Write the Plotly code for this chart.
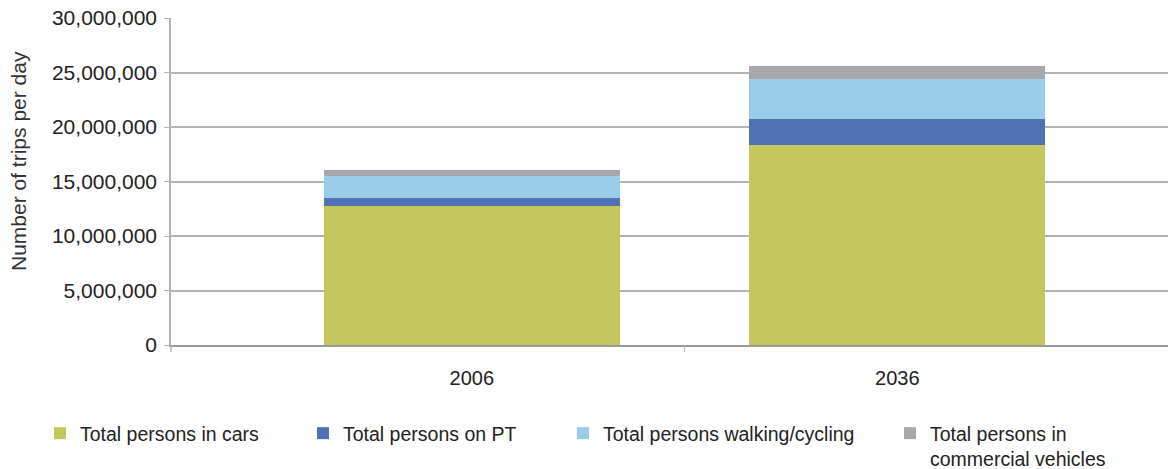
import plotly.graph_objects as go

years = ["2006", "2036"]
series_names = [
    "Total persons in cars",
    "Total persons on PT",
    "Total persons walking/cycling",
    "Total persons in<br>commercial vehicles",
]
cars = [12740000, 18390000]
pt = [710000, 2380000]
walking = [2010000, 3660000]
commercial = [640000, 1190000]
y_ticks = [0, 5000000, 10000000, 15000000, 20000000, 25000000, 30000000]

colors = ["#C4C85C", "#5073B5", "#9ACDE9", "#A7A8AC"]
values = [cars, pt, walking, commercial]

W, H = 1168, 469
L, R, T, B = 171, 0, 18, 124
pw = W - L - R
ph = H - T - B

def px_x(p):
    return (p - L) / pw

def px_y(p):
    return (H - B - p) / ph

def cx(p):
    return p / W

def cy(p):
    return 1 - p / H

font_family = "Liberation Sans, Arial, sans-serif"
legend_text_x = [80, 343, 603, 930]

fig = go.Figure()
xpos = [0, 1]
for i, (name, vals, col) in enumerate(zip(series_names, values, colors)):
    fig.add_trace(go.Bar(
        x=xpos, y=vals, name=name, marker=dict(color=col, line=dict(width=0)),
        width=0.696, legend="legend" if i == 0 else f"legend{i+1}",
    ))

layout_legends = {}
for i, tx in enumerate(legend_text_x):
    key = "legend" if i == 0 else f"legend{i+1}"
    layout_legends[key] = dict(
        x=cx(tx - 40), y=cy(414), xanchor="left", yanchor="top",
        xref="container", yref="container", valign="top",
        font=dict(family=font_family, size=19.5, color="#222"),
        bgcolor="rgba(0,0,0,0)", itemclick=False, tracegroupgap=0,
    )

fig.update_layout(
    width=W, height=H,
    margin=dict(l=L, r=R, t=T, b=B, pad=0, autoexpand=False),
    barmode="stack",
    plot_bgcolor="white", paper_bgcolor="white",
    font=dict(family=font_family, size=20, color="#222"),
    showlegend=True,
    xaxis=dict(
        range=[-0.707, 1.636], tickvals=xpos, ticktext=years,
        showgrid=False, zeroline=False, ticks="", showline=True,
        linecolor="#9a9a9a", linewidth=2, ticklabelstandoff=14, automargin=False,
        tickfont=dict(size=20, color="#222"),
    ),
    yaxis=dict(
        range=[0, 30000000], tickvals=y_ticks, tickformat=",",
        showgrid=True, gridcolor="#b3b3b3", gridwidth=1.5, automargin=False,
        zeroline=False, showline=True, linecolor="#b3b3b3", linewidth=1.5,
        ticks="outside", ticklen=5, tickcolor="#b3b3b3", tickwidth=1,
        ticklabelstandoff=3,
        tickfont=dict(size=21, color="#222"),
    ),
    **layout_legends,
)

fig.add_annotation(
    text="Number of trips per day", textangle=-90, showarrow=False,
    xref="paper", yref="paper", x=px_x(18), y=px_y(161),
    xanchor="center", yanchor="middle",
    font=dict(family=font_family, size=21, color="#333"),
)

fig.add_shape(type="line", xref="x", yref="paper", x0=0.5, x1=0.5, y0=0, y1=px_y(352),
              line=dict(color="#b3b3b3", width=1))
fig.add_shape(type="line", xref="paper", yref="paper", x0=0, x1=0, y0=0, y1=px_y(352),
              line=dict(color="#b3b3b3", width=1.5))

fig.write_html("out.html", config={"displayModeBar": False},
               post_script="document.body.style.margin='0';")
